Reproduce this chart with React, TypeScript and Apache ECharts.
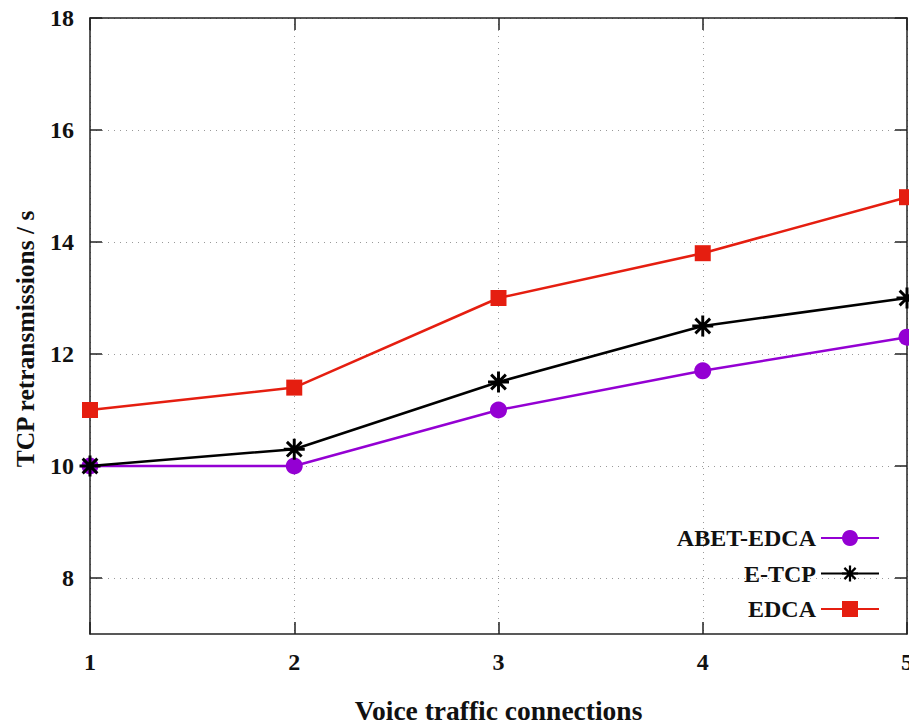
import React, { useEffect, useRef } from "react";
import * as echarts from "echarts";

// Number of concurrent voice connections
const connections = [1, 2, 3, 4, 5];

// TCP retransmissions per second for each scheme
const abetEdca = [10, 10, 11, 11.7, 12.3];
const eTcp = [10, 10.3, 11.5, 12.5, 13];
const edca = [11, 11.4, 13, 13.8, 14.8];

const yTicks = [8, 10, 12, 14, 16, 18];
const xTicks = [1, 2, 3, 4, 5];

const FONT = "Liberation Serif";

// asterisk marker built from four filled bars (vertical, horizontal, two diagonals)
const STAR =
  "path://M8.6,0H11.4V20H8.6Z M0,8.6H20V11.4H0Z M3.99,2.01L17.99,16.01L16.01,17.99L2.01,3.99Z M16.01,2.01L17.99,3.99L3.99,17.99L2.01,16.01Z";

const pairs = (ys: number[]) => connections.map((x, i) => [x, ys[i]]);

export default function App() {
  const ref = useRef<HTMLDivElement>(null);

  useEffect(() => {
    if (!ref.current) return;
    const chart = echarts.init(ref.current, null, { renderer: "svg" });

    const frameLine = { show: true, lineStyle: { color: "#222", width: 1.5 } };
    const tickStyle = { color: "#222", width: 1.5 };
    const gridDots = {
      show: true,
      lineStyle: { color: "#999", width: 1, type: [1, 5] as number[] },
    };
    const tickFont = { fontFamily: FONT, fontWeight: "bold" as const, fontSize: 24, color: "#111" };

    chart.setOption({
      animation: false,
      backgroundColor: "#fff",
      textStyle: { fontFamily: FONT, fontWeight: "bold", color: "#111" },
      grid: { left: 90, right: 2, top: 18, bottom: 90, containLabel: false, outerBoundsMode: "none" },
      xAxis: [
        {
          type: "value",
          min: 1,
          max: 5,
          interval: 1,
          position: "bottom",
          name: "Voice traffic connections",
          nameLocation: "middle",
          nameGap: 62,
          nameTextStyle: { fontFamily: FONT, fontWeight: "bold", fontSize: 27.5, color: "#111" },
          axisLine: frameLine,
          axisTick: { show: true, inside: true, length: 12, lineStyle: tickStyle, customValues: xTicks },
          axisLabel: { ...tickFont, margin: 16, customValues: xTicks },
          splitLine: gridDots,
        },
        {
          type: "value",
          min: 1,
          max: 5,
          interval: 1,
          position: "top",
          axisLine: frameLine,
          axisTick: { show: true, inside: true, length: 12, lineStyle: tickStyle },
          axisLabel: { show: false },
          splitLine: { show: false },
        },
      ],
      yAxis: [
        {
          type: "value",
          min: 7,
          max: 18,
          position: "left",
          name: "TCP retransmissions / s",
          nameLocation: "middle",
          nameGap: 52,
          nameTextStyle: {
            fontFamily: FONT,
            fontWeight: "bold",
            fontSize: 25.5,
            color: "#111",
            padding: [0, 26, 0, 0],
          },
          axisLine: frameLine,
          axisTick: { show: true, inside: true, length: 12, lineStyle: tickStyle, customValues: yTicks },
          axisLabel: { ...tickFont, margin: 16, customValues: yTicks },
          splitLine: gridDots,
        },
        {
          type: "value",
          min: 7,
          max: 18,
          position: "right",
          axisLine: frameLine,
          axisTick: { show: true, inside: true, length: 12, lineStyle: tickStyle, customValues: yTicks },
          axisLabel: { show: false, customValues: yTicks },
          splitLine: { show: false },
        },
      ],
      legend: {
        orient: "vertical",
        right: 29,
        top: 526,
        padding: 0,
        align: "right",
        itemWidth: 58,
        itemHeight: 20,
        itemGap: 11.5,
        textStyle: { fontFamily: FONT, fontWeight: "bold", fontSize: 24, color: "#111" },
        data: ["ABET-EDCA", "E-TCP", "EDCA"],
      },
      series: [
        {
          name: "ABET-EDCA",
          type: "line",
          data: pairs(abetEdca),
          symbol: "circle",
          symbolSize: 17,
          itemStyle: { color: "#9400d3" },
          lineStyle: { color: "#9400d3", width: 2.5 },
          z: 3,
        },
        {
          name: "E-TCP",
          type: "line",
          data: pairs(eTcp),
          symbol: STAR,
          symbolSize: 21,
          itemStyle: { color: "#000" },
          lineStyle: { color: "#000", width: 2.5 },
          z: 4,
        },
        {
          name: "EDCA",
          type: "line",
          data: pairs(edca),
          symbol: "rect",
          symbolSize: 16,
          itemStyle: { color: "#e51e10" },
          lineStyle: { color: "#e51e10", width: 2.5 },
          z: 5,
        },
      ],
    });

    return () => chart.dispose();
  }, []);

  return <div ref={ref} style={{ width: 909, height: 724, position: "absolute", left: 0, top: 0 }} />;
}
